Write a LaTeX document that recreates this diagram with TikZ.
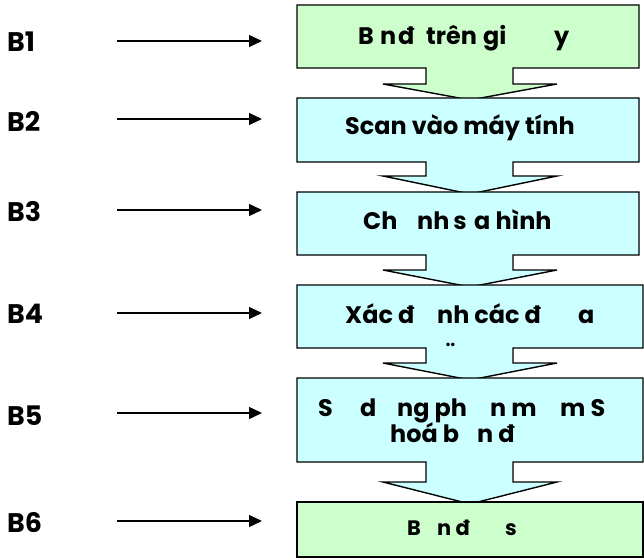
\documentclass[tikz,border=0pt]{standalone}
\usepackage{fontspec}
\setmainfont{Poppins}
\usetikzlibrary{arrows.meta}

\definecolor{boxgreen}{HTML}{CCFFCC}
\definecolor{boxcyan}{HTML}{CCFFFF}

\tikzset{
  outline/.style={draw=black, line width=1.4bp, line join=miter},
  steptext/.style={font=\bfseries\fontsize{24}{28}\selectfont, anchor=base west, inner sep=0pt},
  smalltext/.style={font=\bfseries\fontsize{21}{25}\selectfont, anchor=base west, inner sep=0pt},
  steplabel/.style={font=\bfseries\fontsize{27}{31}\selectfont, anchor=base west, inner sep=0pt},
  pointer/.style={line width=1.3bp, -{Triangle[length=13bp,width=12bp]}},
}

% box with a downward block arrow: top, bottom, stem end, tip, right edge, fill
\newcommand\calloutbox[6]{%
  \filldraw[outline, fill=#6] (297,#1) -- (#5,#1) -- (#5,#2) -- (513,#2) -- (513,#3)
    -- (557,#3) -- (470,#4) -- (383,#3) -- (426,#3) -- (426,#2) -- (297,#2) -- cycle;}
% fixed-width slot so that each word fragment starts at its own place
\newcommand\slot[2]{\makebox[#1bp][l]{#2}}

\begin{document}
\begin{tikzpicture}[x=1bp, y=-1bp]
  \useasboundingbox (0,0) rectangle (644,559);

  % flow of boxes, drawn top to bottom so each box covers the arrow tip above it
  \calloutbox{5}{68}{84}{100}{639}{boxgreen}
  \calloutbox{98}{162}{176}{194}{639}{boxcyan}
  \calloutbox{192}{255}{270}{287}{639}{boxcyan}
  \calloutbox{285}{348}{363}{380}{643}{boxcyan}
  \calloutbox{378}{462}{482}{504}{643}{boxcyan}
  \filldraw[outline, fill=boxgreen] (297,502) rectangle (643,557);

  % box texts
  \node[steptext] (t1) at (358,45) {\slot{22}{B}\slot{18}{n}\slot{28}{đ}\slot{57}{trên}\slot{71}{gi}y};
  \node[steptext] (t2) at (345,135) {Scan vào máy tính};
  \node[steptext] (t3) at (363,230) {\slot{54}{Ch}\slot{57}{nh\hspace{4bp}s}a hình};
  \node[steptext] (t4) at (345,323) {\slot{92}{Xác đ}\slot{141}{nh các đ}a};
  \node[steptext] (t4b) at (446,361) {¨};
  \node[steptext] (t5) at (318,416) {\slot{42}{S}\slot{37}{d}\slot{93}{ng ph}\slot{70}{n m}m S};
  \node[steptext] (t5b) at (390,442) {\slot{87}{hoá b}n đ};
  \node[smalltext] (t6) at (407,535) {\slot{30}{B}\slot{68}{n đ}s};

  % step labels with their pointers
  \foreach \k/\ly/\ay in {1/52/41, 2/132/119, 3/222/210, 4/323/313, 5/425/413, 6/532/521} {
    \node[steplabel] (b\k) at (7,\ly) {B\k};
    \coordinate (p\k s) at (117,\ay);
    \coordinate (p\k e) at (262,\ay);
    \draw[pointer] (p\k s) -- (p\k e);
  }
\end{tikzpicture}
\end{document}
